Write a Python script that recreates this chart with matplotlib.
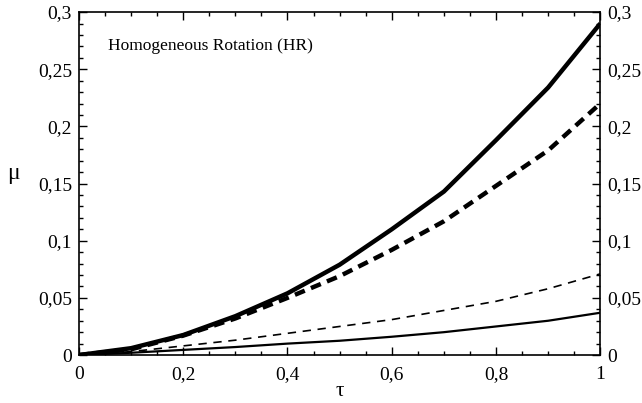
import numpy as np
import matplotlib.pyplot as plt
from matplotlib.ticker import MultipleLocator, FuncFormatter

plt.rcParams['font.family'] = ['Liberation Serif', 'DejaVu Serif']

tau = [0, 0.1, 0.2, 0.3, 0.4, 0.5, 0.6, 0.7, 0.8, 0.9, 1.0]
mu_thick_solid = [0, 0.006, 0.0175, 0.034, 0.054, 0.079, 0.110, 0.143, 0.188, 0.234, 0.290]
mu_thick_dash = [0, 0.005, 0.017, 0.032, 0.050, 0.069, 0.092, 0.117, 0.148, 0.179, 0.220]
mu_thin_dash = [0, 0.003, 0.008, 0.013, 0.019, 0.025, 0.031, 0.039, 0.047, 0.058, 0.071]
mu_thin_solid = [0, 0.002, 0.0045, 0.007, 0.010, 0.0125, 0.016, 0.020, 0.025, 0.030, 0.037]


def comma(v, pos):
    s = '%g' % round(v, 3)
    return s.replace('.', ',')


fig = plt.figure(figsize=(6.42, 4.03), dpi=100)
ax = fig.add_axes([0.123, 0.119, 0.812, 0.851])

ax.plot(tau, mu_thick_solid, color='black', lw=3.2, solid_capstyle='butt')
ax.plot(tau, mu_thick_dash, color='black', lw=3.2, dashes=(2.4, 1.5))
ax.plot(tau, mu_thin_dash, color='black', lw=1.2, dashes=(5, 4))
ax.plot(tau, mu_thin_solid, color='black', lw=1.6)

ax.set_xlim(0, 1)
ax.set_ylim(0, 0.3)
ax.xaxis.set_major_locator(MultipleLocator(0.2))
ax.xaxis.set_minor_locator(MultipleLocator(0.05))
ax.yaxis.set_major_locator(MultipleLocator(0.05))
ax.yaxis.set_minor_locator(MultipleLocator(0.01))
ax.xaxis.set_major_formatter(FuncFormatter(comma))
ax.yaxis.set_major_formatter(FuncFormatter(comma))

ax.tick_params(which='both', direction='in', top=True, right=True,
               labelright=True, labelsize=14, width=1)
ax.tick_params(which='major', length=6, pad=5)
ax.tick_params(axis='x', which='major', pad=8)
ax.tick_params(which='minor', length=3)
for sp in ax.spines.values():
    sp.set_linewidth(1.2)

ax.set_xlabel('τ', fontsize=15)
ax.xaxis.set_label_coords(0.5, -0.078)
ax.set_ylabel('μ', fontsize=17, rotation=0)
ax.yaxis.set_label_coords(-0.125, 0.5)

ax.text(0.055, 0.9, 'Homogeneous Rotation (HR)', transform=ax.transAxes,
        fontsize=12.5, va='center', ha='left')

fig.savefig('out.png', dpi=100)
